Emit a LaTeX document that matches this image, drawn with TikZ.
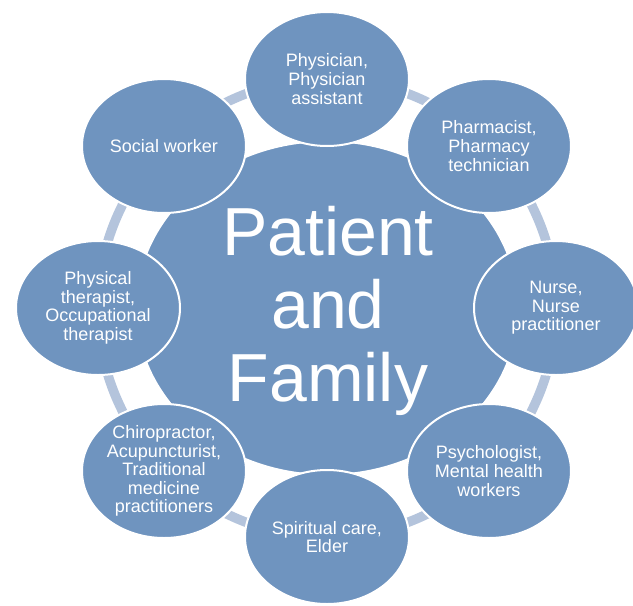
\documentclass[tikz,border=0pt]{standalone}
\usepackage{fontspec}
\setmainfont{Liberation Sans}
\usetikzlibrary{shapes.geometric}
\definecolor{nodeblue}{HTML}{6F94BF}
\definecolor{ringblue}{HTML}{B4C4DC}
\tikzset{
  satnode/.style={ellipse, fill=nodeblue, draw=white, line width=2pt,
    minimum width=164pt, minimum height=134pt, inner sep=0pt,
    text=white, align=center, font=\fontsize{18}{18.6}\selectfont},
  hubnode/.style={ellipse, fill=nodeblue, draw=white, line width=2pt,
    minimum width=382pt, minimum height=334pt, inner sep=0pt},
  hubtext/.style={text=white, align=center, inner sep=0pt,
    font=\fontsize{68}{73}\selectfont},
  ringline/.style={draw=ringblue, line width=9.5pt}
}
\begin{document}
\begin{tikzpicture}[x=1pt,y=-1pt]
\useasboundingbox (0,0) rectangle (633,606);
\coordinate (ctr) at (327,308);
\draw[ringline] (ctr) circle[radius=229pt];
\node[hubnode] (hub) at (ctr) {};
\node[hubtext] (hubt) at (328,311) {Patient\\and\\Family};
\node[satnode] (phys) at (327,79) {Physician,\\Physician\\assistant};
\node[satnode] (pharm) at (489,146) {Pharmacist,\\Pharmacy\\technician};
\node[satnode] (nurse) at (556,308) {Nurse,\\Nurse\\practitioner};
\node[satnode] (psych) at (489,471) {Psychologist,\\Mental health\\workers};
\node[satnode] (spirit) at (327,537) {Spiritual care,\\Elder};
\node[satnode] (chiro) at (164,471) {Chiropractor,\\Acupuncturist,\\Traditional\\medicine\\practitioners};
\node[satnode] (pt) at (98,308) {Physical\\therapist,\\Occupational\\therapist};
\node[satnode] (social) at (164,146) {Social worker};
\end{tikzpicture}
\end{document}
